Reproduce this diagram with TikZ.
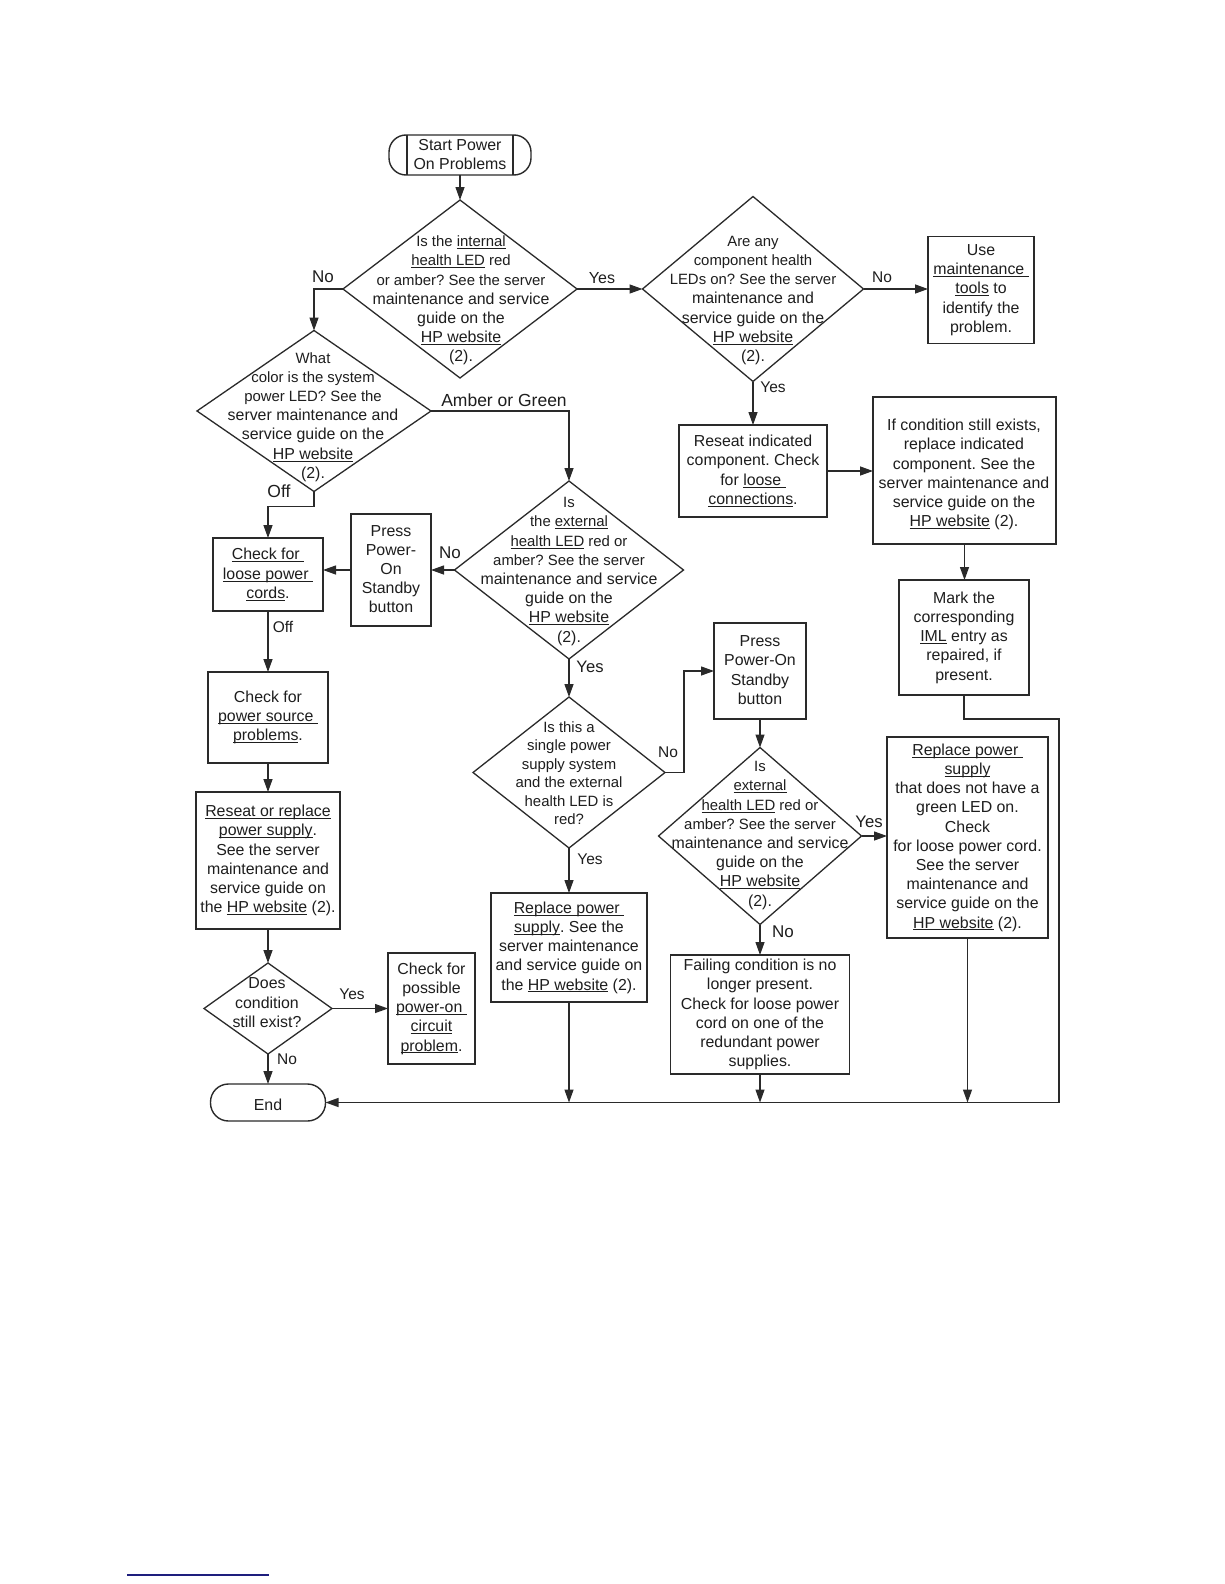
\documentclass[tikz,border=0pt]{standalone}
\usepackage{fontspec}
\setmainfont{Liberation Sans}
\usetikzlibrary{arrows.meta,shapes.geometric}
\definecolor{ink}{HTML}{1E1E1E}
\definecolor{edge}{HTML}{2A2A2A}
\definecolor{navyline}{RGB}{30,30,125}
\frenchspacing
\newcommand\nf{\fontsize{15.9}{19.2}\selectfont\frenchspacing}
\newcommand\sm{\fontsize{14.9}{19.2}\selectfont}
\newcommand\mys{\rule[-1.9pt]{0pt}{19.2pt}}
\newcommand\uln[1]{\setbox0\hbox{#1}\rlap{\rule[-2.4pt]{\wd0}{0.95pt}}\box0\relax}
\begin{document}
\begin{tikzpicture}[x=1pt,y=-1pt,
  box/.style={draw=edge, line width=1.4pt, rectangle, inner sep=0pt, outer sep=0pt, align=center, font=\nf, text=ink, execute at begin node=\mys, execute at end node=\mys},
  dia/.style={draw=edge, line width=1.3pt, diamond, inner sep=0pt, outer sep=0pt},
  txt/.style={inner sep=0pt, align=center, font=\nf, text=ink, execute at begin node=\mys, execute at end node=\mys},
  lab/.style={inner sep=0pt, font=\fontsize{17}{19}\selectfont, text=ink},
  labs/.style={inner sep=0pt, font=\fontsize{15.5}{18}\selectfont, text=ink},
  arr/.style={draw=edge, line width=1.3pt, -{Triangle[length=13pt,width=9pt]}},
  ln/.style={draw=edge, line width=1.3pt},
  term/.style={draw=edge, line width=1.4pt, rectangle, rounded corners=17pt, inner sep=0pt, outer sep=0pt, align=center, font=\nf, text=ink, execute at begin node=\mys, execute at end node=\mys}
]
\path[fill=white,use as bounding box] (0,0) rectangle (1224,1584);

% terminals
\node[term, minimum width=142pt, minimum height=40pt] (st) at (460,155) {Start Power\\On Problems};
\draw[ln] ([xshift=18pt]st.north west) -- ([xshift=18pt]st.south west);
\draw[ln] ([xshift=-18pt]st.north east) -- ([xshift=-18pt]st.south east);
\node[term, rounded corners=18pt, minimum width=115pt, minimum height=37pt] (en) at (268,1102.5) {End};

% diamonds
\node[dia, minimum width=234pt, minimum height=178pt] (d1) at (460,289) {};
\node[txt] (d1t) at (461,300.5) {{\sm Is the \uln{internal}}\\{\sm \uln{health LED} red}\\{\sm or amber? See the server}\\maintenance and service\\guide on the\\\uln{HP website}\\(2).};

\node[dia, minimum width=234pt, minimum height=161pt] (d2) at (314,411) {};
\node[txt] (d2t) at (313,417) {{\sm What}\\{\sm color is the system}\\{\sm power LED? See the}\\server maintenance and\\service guide on the\\\uln{HP website}\\(2).};

\node[dia, minimum width=221pt, minimum height=185pt] (d3) at (753,289) {};
\node[txt] (d3t) at (753,300.5) {{\sm Are any}\\{\sm component health}\\{\sm LEDs on? See the server}\\maintenance and\\service guide on the\\\uln{HP website}\\(2).};

\node[dia, minimum width=229pt, minimum height=178pt] (d4) at (569,570) {};
\node[txt] (d4t) at (569,571.5) {{\sm Is}\\{\sm the \uln{external}}\\{\sm \uln{health LED} red or}\\{\sm amber? See the server}\\maintenance and service\\guide on the\\\uln{HP website}\\(2).};

\node[dia, minimum width=192pt, minimum height=151pt] (d5) at (569,772.5) {};
\node[txt, font=\fontsize{14.9}{18.4}\selectfont] (d5t) at (569,774) {Is this a\\single power\\supply system\\and the external\\health LED is\\red?};

\node[dia, minimum width=203pt, minimum height=177pt] (d6) at (760,836) {};
\node[txt] (d6t) at (760,835.5) {{\sm Is}\\{\sm \uln{external}}\\{\sm \uln{health LED} red or}\\{\sm amber? See the server}\\maintenance and service\\guide on the\\\uln{HP website}\\(2).};

\node[dia, minimum width=128pt, minimum height=91pt] (d7) at (268,1008.5) {};
\node[txt] (d7t) at (267,1003.5) {Does\\condition\\still exist?};

% boxes
\node[box, minimum width=106pt, minimum height=107pt] (um) at (981,290) {Use\\\uln{maintenance\ }\\\uln{tools} to\\identify the\\problem.};
\node[box, minimum width=148pt, minimum height=92pt] (ri) at (753,471) {Reseat indicated\\component. Check\\for \uln{loose\ }\\\uln{connections}.};
\node[box, minimum width=183pt, minimum height=147pt] (ic) at (964.5,470.5) {};
\node[txt] (ict) at (964,474.5) {If condition still exists,\\replace indicated\\component. See the\\server maintenance and\\service guide on the\\\uln{HP website} (2).};
\node[box, minimum width=130pt, minimum height=115pt] (mk) at (964,637.5) {Mark the\\corresponding\\\uln{IML} entry as\\repaired, if\\present.};
\node[box, minimum width=80pt, minimum height=112pt] (ps1) at (391,570) {Press\\Power-\\On\\Standby\\button};
\node[box, minimum width=110pt, minimum height=73pt] (cl) at (268,574.5) {\uln{Check for\ }\\\uln{loose power\ }\\\uln{cords}.};
\node[box, minimum width=120pt, minimum height=91pt] (cps) at (268,717.5) {Check for\\\uln{power source\ }\\\uln{problems}.};
\node[box, minimum width=144pt, minimum height=137pt] (rr) at (268,860.5) {\uln{Reseat or replace}\\\uln{power supply}.\\See the server\\maintenance and\\service guide on\\the \uln{HP website} (2).};
\node[box, minimum width=87pt, minimum height=111pt] (pc) at (431.5,1008.5) {Check for\\possible\\\uln{power-on\ }\\\uln{circuit}\\\uln{problem}.};
\node[box, minimum width=156pt, minimum height=109pt] (rp1) at (569,947.5) {\uln{Replace power\ }\\\uln{supply}. See the\\server maintenance\\and service guide on\\the \uln{HP website} (2).};
\node[box, minimum width=92pt, minimum height=96pt] (ps2) at (760,671) {Press\\Power-On\\Standby\\button};
\node[box, minimum width=161pt, minimum height=201pt] (rp2) at (967.5,837.5) {\uln{Replace power\ }\\\uln{supply}\\that does not have a\\green LED on.\\Check\\for loose power cord.\\See the server\\maintenance and\\service guide on the\\\uln{HP website} (2).};
\node[box, minimum width=179pt, minimum height=119pt] (fc) at (760,1014.5) {Failing condition is no\\longer present.\\Check for loose power\\cord on one of the\\redundant power\\supplies.};

% coordinates
\coordinate (cmk) at (1059,719);
\coordinate (cbr) at (1059,1102.5);

% connectors
\draw[arr] (st.south) -- (d1.north);
\draw[arr] (d1.west) -| (d2.north);
\draw[arr] (d1.east) -- (d3.west);
\draw[arr] (d3.east) -- (d3.east -| um.west);
\draw[arr] (d3.south) -- (ri.north);
\draw[arr] (ri.east) -- (ri.east -| ic.west);
\draw[arr] (ic.south) -- (ic.south |- mk.north);
\draw[arr] (mk.south) |- (cmk) -- (cbr) -- (en.east);
\draw[arr] (rp1.south) -- (rp1.south |- cbr);
\draw[arr] (fc.south) -- (fc.south |- cbr);
\draw[arr] (rp2.south) -- (rp2.south |- cbr);
\draw[arr] (d2.east) -| (d4.north);
\draw[arr] (d2.south) -- ++(0,15) -| (cl.north);
\draw[arr] (d4.west) -- (d4.west -| ps1.east);
\draw[arr] (ps1.west) -- (ps1.west -| cl.east);
\draw[arr] (cl.south) -- (cps.north);
\draw[arr] (cps.south) -- (rr.north);
\draw[arr] (rr.south) -- (d7.north);
\draw[arr] (d7.east) -- (d7.east -| pc.west);
\draw[arr] (d7.south) -- (en.north);
\draw[arr] (d4.south) -- (d5.north);
\draw[arr] (d5.east) -- ++(19,0) |- (ps2.west);
\draw[arr] (ps2.south) -- (d6.north);
\draw[arr] (d6.east) -- (d6.east -| rp2.west);
\draw[arr] (d6.south) -- (fc.north);
\draw[arr] (d5.south) -- (rp1.north);

% labels
\node[lab] (l1) at (323,277) {No};
\node[labs, font=\fontsize{16}{18}\selectfont] (l2) at (602,278) {Yes};
\node[labs] (l3) at (882,277) {No};
\node[labs] (l4) at (773,387) {Yes};
\node[lab, font=\fontsize{17.5}{19}\selectfont] (l5) at (504,400) {Amber or Green};
\node[lab, font=\fontsize{17.5}{19}\selectfont] (l6) at (279,491) {Off};
\node[lab] (l7) at (450,553) {No};
\node[labs] (l8) at (283,627) {Off};
\node[lab, font=\fontsize{16.6}{19}\selectfont] (l9) at (590,667) {Yes};
\node[labs] (l10) at (668,752) {No};
\node[labs] (l11) at (590,859) {Yes};
\node[lab, font=\fontsize{16.7}{19}\selectfont] (l12) at (869,822) {Yes};
\node[lab] (l13) at (783,932) {No};
\node[labs] (l14) at (352,994) {Yes};
\node[labs] (l15) at (287,1059) {No};

% footnote rule
\draw[navyline, line width=1.2pt] (127,1575) -- (269,1575);
\end{tikzpicture}
\end{document}
